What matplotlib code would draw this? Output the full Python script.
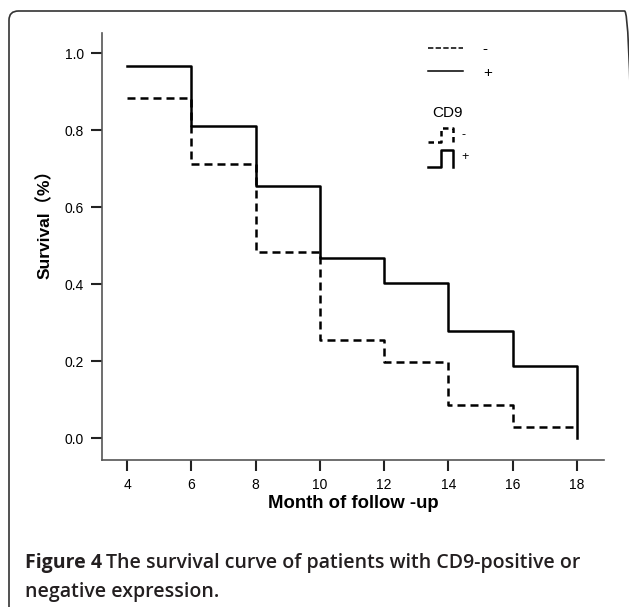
import matplotlib
matplotlib.use("Agg")
import matplotlib.pyplot as plt
from matplotlib.lines import Line2D
from matplotlib.patches import FancyBboxPatch

# step curves (value held from each month until the next)
months = [4, 6, 8, 10, 12, 14, 16, 18]
surv_pos = [0.966, 0.812, 0.655, 0.468, 0.405, 0.280, 0.187, 0.0]
surv_neg = [0.884, 0.713, 0.485, 0.255, 0.198, 0.087, 0.030, 0.030]
xticks = [4, 6, 8, 10, 12, 14, 16, 18]
yticks = [0.0, 0.2, 0.4, 0.6, 0.8, 1.0]

fig = plt.figure(figsize=(6.29, 6.07), dpi=100)

# rounded frame around the whole figure
frame = FancyBboxPatch((9 / 629, -10 / 607), 625 / 629, 606 / 607,
                       boxstyle="round,pad=0,rounding_size=0.015",
                       transform=fig.transFigure, facecolor="none",
                       edgecolor="#333333", linewidth=1.2, clip_on=False)
fig.patches.append(frame)

ax = fig.add_axes([102 / 629, 1 - 460 / 607, 502 / 629, 427 / 607])
ax.set_xlim(3.22, 18.84)
ax.set_ylim(-0.056, 1.053)

ax.step(months, surv_neg, where="post", color="black", lw=1.8,
        ls=(0, (3.2, 2.0)))
ax.step(months, surv_pos, where="post", color="black", lw=1.8)

for s in ["top", "right"]:
    ax.spines[s].set_visible(False)
for s in ["left", "bottom"]:
    ax.spines[s].set_color("#555555")
    ax.spines[s].set_linewidth(1.2)

ax.set_xticks(xticks)
ax.set_yticks(yticks)
ax.set_yticklabels(["%.1f" % v for v in yticks])
ax.tick_params(direction="out", length=8, width=1.5, color="#222222",
               labelsize=10, pad=5)
for lab in ax.get_xticklabels() + ax.get_yticklabels():
    lab.set_family("Liberation Sans")

ax.set_xlabel("Month of follow -up", family="Liberation Sans",
              fontweight="bold", fontsize=13.3, va="center")
ax.xaxis.set_label_coords(0.5, (460 - 503) / 427)
ax.set_ylabel("Survival（%）", family=["Liberation Sans", "Noto Sans CJK SC"],
              fontweight="bold", fontsize=12.5, va="center")
ax.yaxis.set_label_coords((45 - 102) / 502, (460 - 220) / 427)

# legend
handles = [Line2D([], [], color="black", lw=1.1, ls=(0, (3.5, 1.5))),
           Line2D([], [], color="black", lw=1.1)]
leg = ax.legend(handles, ["-", "+"], loc="upper left",
                bbox_to_anchor=(0.649, 0.978), frameon=False,
                borderpad=0, borderaxespad=0, handlelength=2.3,
                handletextpad=1.3, labelspacing=0.6,
                prop={"family": "Liberation Sans", "size": 11})

ax.text(0.689, 0.813, "CD9", transform=ax.transAxes, ha="center",
        va="center", family="Liberation Sans", fontsize=11)
ax.add_line(Line2D([0.649, 0.675, 0.675, 0.699, 0.699],
                   [0.745, 0.745, 0.778, 0.778, 0.745],
                   transform=ax.transAxes, color="black", lw=1.8,
                   ls=(0, (2.2, 1.6)), clip_on=False))
ax.add_line(Line2D([0.649, 0.675, 0.675, 0.699, 0.699],
                   [0.686, 0.686, 0.726, 0.726, 0.686],
                   transform=ax.transAxes, color="black", lw=1.8,
                   clip_on=False))
ax.text(0.716, 0.762, "-", transform=ax.transAxes, ha="left", va="center",
        family="Liberation Sans", fontsize=9)
ax.text(0.716, 0.710, "+", transform=ax.transAxes, ha="left", va="center",
        family="Liberation Sans", fontsize=9)

# caption
cap1 = fig.text(25 / 629, 1 - 563 / 607, "Figure 4", family="Open Sans",
                fontweight="bold", fontsize=14, color="#231f20",
                va="center", ha="left")
fig.canvas.draw()
bb = cap1.get_window_extent()
fig.text(bb.x1 / fig.bbox.width + 4 / 629, 1 - 563 / 607,
         "The survival curve of patients with CD9-positive or",
         family="Open Sans", fontweight="semibold", fontsize=14,
         color="#231f20", va="center", ha="left")
fig.text(25 / 629, 1 - 592 / 607, "negative expression.", family="Open Sans",
         fontweight="semibold", fontsize=14, color="#231f20",
         va="center", ha="left")

fig.savefig("out.png", dpi=100)
